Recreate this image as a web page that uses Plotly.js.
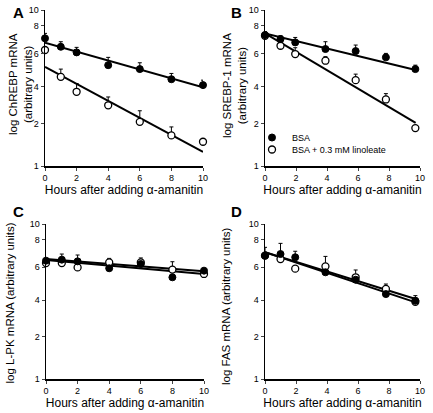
<!DOCTYPE html>
<html><head><meta charset="utf-8">
<script src="https://cdn.plot.ly/plotly-3.0.1.min.js"></script>
<style>html,body{margin:0;padding:0;background:#fff}#chart{width:433px;height:413px}</style>
</head><body><div id="chart"></div>
<script>
// ---- data ----
const hours = [0, 1, 2, 4, 6, 8, 10];
const hoursBD = [0, 1, 1.95, 3.9, 5.85, 7.8, 9.7];
const fitHours = [0, 10];
const fitHoursBD = [0, 9.72];

// Panel A: ChREBP
const chrebpBSA = [6.58, 5.81, 5.35, 4.43, 4.18, 3.60, 3.30];
const chrebpBSAErr = [0.5, 0.45, 0.41, 0.54, 0.41, 0.32, 0.25];
const chrebpLin = [5.54, 3.73, 2.99, 2.45, 1.92, 1.57, 1.43];
const chrebpLinErr = [0, 0.45, 0.39, 0.32, 0.34, 0.21, 0];
const chrebpBSAFit = [6.17, 3.19];
const chrebpLinFit = [4.32, 1.23];

// Panel B: SREBP-1
const srebpBSA = [6.91, 6.51, 6.20, 5.62, 5.45, 4.97, 4.18];
const srebpBSAErr = [0.35, 0.33, 0.47, 0.64, 0.51, 0.30, 0.25];
const srebpLin = [6.84, 5.90, 5.22, 4.73, 3.55, 2.67, 1.75];
const srebpLinErr = [0, 0.3, 0.51, 0.29, 0.33, 0.24, 0];
const srebpBSAFit = [7.08, 4.12];
const srebpLinFit = [7.08, 1.89];

// Panel C: L-PK
const lpkBSA = [5.80, 5.89, 5.74, 5.18, 5.52, 4.53, 5.00];
const lpkBSAErr = [0, 0, 0, 0, 0, 0, 0];
const lpkLin = [5.60, 5.60, 5.25, 5.66, 5.66, 5.08, 4.76];
const lpkLinErr = [0, 0.8, 1.06, 0.34, 0.38, 0.63, 0.42];
const lpkBSAFit = [5.95, 4.95];
const lpkLinFit = [5.86, 4.76];

// Panel D: FAS
const fasBSA = [6.25, 6.40, 6.10, 4.88, 4.37, 3.53, 3.20];
const fasBSAErr = [0.82, 1.1, 0.57, 0, 0, 0, 0];
const fasLin = [6.25, 5.94, 5.15, 5.33, 4.53, 3.81, 3.15];
const fasLinErr = [0, 0, 0, 0.85, 0.52, 0.29, 0.30];
const fasBSAFit = [6.57, 3.12];
const fasLinFit = [6.57, 3.28];

const yTickVals = [1, 1.875, 3.22, 5.27, 7.94, 10];
const yTickText = ['1', '2', '4', '6', '8', '10'];
const xTickVals = [0, 2, 4, 6, 8, 10];
const seriesNames = ['BSA', 'BSA + 0.3 mM linoleate'];
const xTitle = 'Hours after adding α-amanitin';
const yTitles = ['log ChREBP mRNA<br>(arbitrary units)', 'log SREBP-1 mRNA<br>(arbitrary units)',
                 'log L-PK mRNA (arbitrary units)', 'log FAS mRNA (arbitrary units)'];
const panelLetters = ['A', 'B', 'C', 'D'];

// ---- build ----
const FONT = 'Liberation Sans, Arial, Helvetica, sans-serif';
const panels = [
  {xa:'x',  ya:'y',  h:hours,   fh:fitHours,   b:chrebpBSA, be:chrebpBSAErr, l:chrebpLin, le:chrebpLinErr, bf:chrebpBSAFit, lf:chrebpLinFit, legend:false},
  {xa:'x2', ya:'y2', h:hoursBD, fh:fitHoursBD, b:srebpBSA,  be:srebpBSAErr,  l:srebpLin,  le:srebpLinErr,  bf:srebpBSAFit,  lf:srebpLinFit,  legend:true},
  {xa:'x3', ya:'y3', h:hours,   fh:fitHours,   b:lpkBSA,    be:lpkBSAErr,    l:lpkLin,    le:lpkLinErr,    bf:lpkBSAFit,    lf:lpkLinFit,    legend:false},
  {xa:'x4', ya:'y4', h:hoursBD, fh:fitHoursBD, b:fasBSA,    be:fasBSAErr,    l:fasLin,    le:fasLinErr,    bf:fasBSAFit,    lf:fasLinFit,    legend:false}
];
const traces = [];
panels.forEach(p => {
  traces.push({x:p.fh, y:p.bf, xaxis:p.xa, yaxis:p.ya, mode:'lines', line:{color:'#000', width:2}, showlegend:false, hoverinfo:'skip'});
  traces.push({x:p.fh, y:p.lf, xaxis:p.xa, yaxis:p.ya, mode:'lines', line:{color:'#000', width:2}, showlegend:false, hoverinfo:'skip'});
  const lin = {x:p.h, y:p.l, xaxis:p.xa, yaxis:p.ya, mode:'markers', name:seriesNames[1], showlegend:false, cliponaxis:false,
    marker:{symbol:'circle', size:7, color:'#fff', line:{color:'#000', width:1.3}},
    error_y:{type:'data', symmetric:false, array:p.le, arrayminus:p.le.map(()=>0), color:'#000', thickness:1, width:2}};
  const bsa = {x:p.h, y:p.b, xaxis:p.xa, yaxis:p.ya, mode:'markers', name:seriesNames[0], showlegend:false, cliponaxis:false,
    marker:{symbol:'circle', size:7, color:'#000', line:{color:'#000', width:1}},
    error_y:{type:'data', symmetric:false, array:p.be, arrayminus:p.be.map(()=>0), color:'#000', thickness:1, width:2}};
  if (p.legend) {
    bsa.showlegend = true; bsa.legend = 'legend';
    lin.showlegend = true; lin.legend = 'legend2';
  }
  traces.push(lin, bsa);
});
const W = 433, H = 413;
const px = v => v / W, py = v => 1 - v / H;
function xax(d0, d1, anchor) {
  return {domain:[px(d0), px(d1)], anchor:anchor, range:[0, 10], tickvals:xTickVals, ticks:'outside', ticklen:3, tickwidth:1,
    showline:true, linewidth:1.5, linecolor:'#000', showgrid:false, zeroline:false, automargin:false,
    tickfont:{size:9, color:'#000', family:FONT},
    title:{text:xTitle, font:{size:12, color:'#000', family:FONT}, standoff:2}};
}
function yax(top, bot, anchor) {
  return {domain:[py(bot), py(top)], anchor:anchor, type:'log', range:[0, 1], tickvals:yTickVals, ticktext:yTickText,
    ticks:'outside', ticklen:3, tickwidth:1, showline:true, linewidth:1.5, linecolor:'#000', showgrid:false, zeroline:false,
    automargin:false, tickfont:{size:9, color:'#000', family:FONT}};
}
const letterAnn = panelLetters.map((t, i) => ({text:'<b>'+t+'</b>', xref:'paper', yref:'paper',
    x:px([18, 236, 18, 236][i]), y:py([13, 13, 211, 211][i]), xanchor:'center', yanchor:'middle', showarrow:false,
    font:{size:15, color:'#000', family:FONT}}));
const yTitleAnn = yTitles.map((t, i) => ({text:t, xref:'paper', yref:'paper', textangle:-90,
    x:px([20, 235, 9.5, 226][i]), y:py([84, 86, 303, 307][i]), xanchor:'center', yanchor:'middle', showarrow:false,
    font:{size:11.5, color:'#000', family:FONT}}));
const legendStyle = top => ({x:px(252), y:py(top), xanchor:'left', yanchor:'top', bgcolor:'rgba(0,0,0,0)',
    font:{size:9, color:'#000', family:FONT}, borderwidth:0});
const layout = {
  width:W, height:H, margin:{l:0, r:0, t:0, b:0}, paper_bgcolor:'#fff', plot_bgcolor:'#fff',
  font:{family:FONT, color:'#000'},
  xaxis: xax(45, 203, 'y'),   yaxis: yax(10, 166, 'x'),
  xaxis2: xax(265, 420, 'y2'), yaxis2: yax(10, 166, 'x2'),
  xaxis3: xax(46, 204, 'y3'), yaxis3: yax(224, 379, 'x3'),
  xaxis4: xax(265, 420, 'y4'), yaxis4: yax(224, 379, 'x4'),
  showlegend:true,
  legend: legendStyle(123),
  legend2: legendStyle(135),
  annotations: letterAnn.concat(yTitleAnn)
};
Plotly.newPlot('chart', traces, layout, {staticPlot:true, displayModeBar:false});
</script></body></html>
